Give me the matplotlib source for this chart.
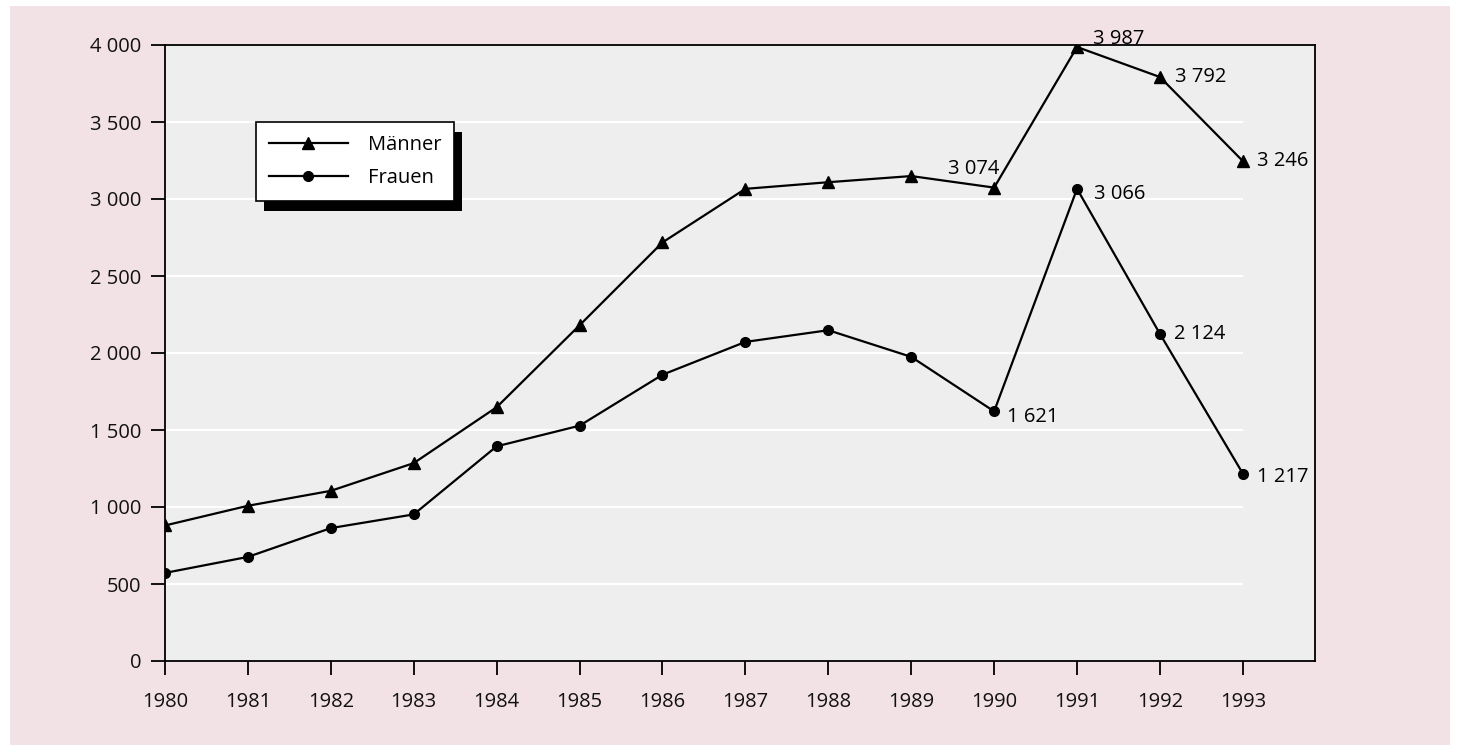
import matplotlib
matplotlib.use("Agg")
import matplotlib.pyplot as plt
from matplotlib.patches import Rectangle

years = [1980, 1981, 1982, 1983, 1984, 1985, 1986, 1987, 1988, 1989, 1990, 1991, 1992, 1993]
maenner = [880, 1008, 1105, 1285, 1648, 2180, 2718, 3066, 3109, 3149, 3074, 3987, 3792, 3246]
frauen = [572, 676, 863, 952, 1394, 1528, 1859, 2072, 2148, 1975, 1621, 3066, 2124, 1217]
series_labels = ["Männer", "Frauen"]
yticks = [0, 500, 1000, 1500, 2000, 2500, 3000, 3500, 4000]
ytick_labels = ["0", "500", "1 000", "1 500", "2 000", "2 500", "3 000", "3 500", "4 000"]

# annotated points: (series, year, text, dx px, dy px, ha)
annotations = [
    ("m", 1990, "3 074", 5, 19, "right"),
    ("m", 1991, "3 987", 16, 8, "left"),
    ("m", 1992, "3 792", 15, 0, "left"),
    ("m", 1993, "3 246", 14, 0, "left"),
    ("f", 1990, "1 621", 13, -6, "left"),
    ("f", 1991, "3 066", 17, -5, "left"),
    ("f", 1992, "2 124", 14, 0, "left"),
    ("f", 1993, "1 217", 14, -3, "left"),
]

plt.rcParams['font.family'] = ["Open Sans", "DejaVu Sans"]
FS = 14.5

W, H = 1458, 751
fig = plt.figure(figsize=(W / 100, H / 100), dpi=100)
fig.patch.set_facecolor("white")
bg = Rectangle((10 / W, 6 / H), 1440 / W, 739 / H, transform=fig.transFigure,
               facecolor="#f2e2e6", edgecolor="none", zorder=-5)
fig.patches.append(bg)

ax = fig.add_axes([165 / W, 1 - 661 / H, 1150 / W, 616 / H])
ax.set_zorder(1)
ax.set_facecolor("#efeeef")
ax.set_xlim(1980, 1993.87)
ax.set_ylim(0, 4000)

ax.hlines(yticks[1:-1], years[0], years[-1], colors="white", lw=1.6, zorder=1)

ax.plot(years, maenner, color="black", lw=1.6, marker="^", markersize=9, zorder=3, label=series_labels[0])
ax.plot(years, frauen, color="black", lw=1.6, marker="o", markersize=7, zorder=3, label=series_labels[1])

lookup = {"m": dict(zip(years, maenner)), "f": dict(zip(years, frauen))}
for s, yr, txt, dx, dy, ha in annotations:
    ax.annotate(txt, (yr, lookup[s][yr]), xytext=(dx * 0.72, dy * 0.72), textcoords="offset points",
                ha=ha, va="center", fontsize=FS, annotation_clip=False, zorder=4)

ax.set_xticks(years)
ax.set_xticklabels([str(y) for y in years], fontsize=FS)
ax.set_yticks(yticks)
ax.set_yticklabels(ytick_labels, fontsize=FS)
ax.tick_params(axis="both", direction="out", length=10, width=1.3, color="black", labelcolor="#111111")
ax.tick_params(axis="y", pad=7)
ax.tick_params(axis="x", pad=12)
for sp in ax.spines.values():
    sp.set_linewidth(1.3)
    sp.set_color("black")

leg = ax.legend(loc="upper left", bbox_to_anchor=((256 - 165) / 1150, 1 - (122 - 45) / 616),
                frameon=True, fancybox=False, fontsize=FS, handlelength=3.9, handletextpad=1.0,
                borderpad=0.65, labelspacing=0.65, borderaxespad=0)
leg.get_frame().set_edgecolor("black")
leg.get_frame().set_linewidth(1.2)
leg.get_frame().set_facecolor("white")
leg.get_frame().set_alpha(1)
leg.set_zorder(6)

fig.canvas.draw()
bb = leg.get_window_extent()
shadow = Rectangle((bb.x0 + 8, bb.y0 - 10), bb.width, bb.height, transform=None,
                   facecolor="black", edgecolor="none", zorder=5)
shadow.set_clip_on(False)
ax.add_artist(shadow)

fig.savefig("out.png", dpi=100)
